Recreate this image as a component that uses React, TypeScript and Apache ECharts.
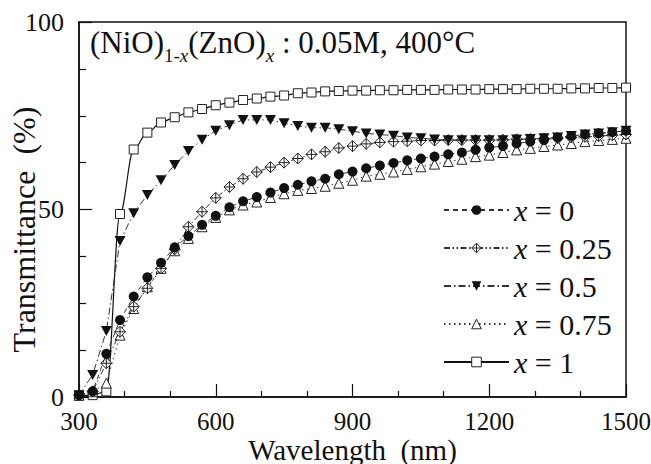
import React, { useEffect, useRef } from "react";
import * as echarts from "echarts";

const wavelengths = [300, 330, 360, 390, 420, 450, 480, 510, 540, 570, 600, 630, 660, 690, 720, 750, 780, 810, 840, 870, 900, 930, 960, 990, 1020, 1050, 1080, 1110, 1140, 1170, 1200, 1230, 1260, 1290, 1320, 1350, 1380, 1410, 1440, 1470, 1500];

const tX0 = [0.5, 1.5, 11.5, 20.5, 26.8, 31.9, 35.8, 39.9, 42.9, 45.9, 48.3, 50.6, 52.2, 53.3, 54.5, 55.7, 56.6, 57.5, 58.2, 59.4, 60.1, 61.0, 61.7, 62.4, 63.1, 63.6, 64.1, 64.7, 65.2, 65.9, 66.5, 66.9, 67.6, 68.1, 68.5, 69.2, 69.6, 70.0, 70.3, 70.6, 71.0];
const tX025 = [0.5, 1.5, 9.0, 17.4, 24.1, 29.0, 34.3, 39.4, 45.4, 49.4, 53.1, 56.0, 58.2, 60.0, 61.3, 62.5, 63.6, 64.7, 65.4, 66.4, 66.9, 67.5, 67.9, 68.1, 68.2, 68.4, 68.4, 68.5, 68.5, 68.5, 68.5, 68.6, 68.7, 68.8, 68.9, 69.0, 69.2, 69.4, 69.6, 69.8, 70.0];
const tX05 = [0.5, 5.9, 17.6, 41.6, 49.0, 53.9, 57.8, 61.9, 65.6, 68.6, 71.0, 72.5, 73.9, 73.9, 73.9, 73.0, 72.3, 71.8, 71.8, 71.4, 70.9, 70.3, 70.0, 69.7, 69.2, 69.0, 68.7, 68.5, 68.5, 68.5, 68.5, 68.5, 68.7, 68.8, 69.0, 69.2, 69.6, 70.0, 70.3, 70.6, 71.0];
const tX075 = [0.5, 1.4, 3.7, 16.5, 23.6, 29.4, 34.3, 39.0, 42.3, 45.4, 47.9, 49.9, 51.2, 52.0, 53.2, 54.2, 55.1, 55.6, 56.2, 57.0, 57.8, 58.9, 59.4, 60.0, 60.7, 61.4, 62.1, 62.8, 63.4, 64.1, 64.5, 65.2, 65.9, 66.3, 66.8, 67.2, 67.6, 68.1, 68.4, 68.7, 69.0];
const tX1 = [0.3, 0.5, 1.5, 48.8, 66.0, 70.5, 73.2, 74.6, 75.9, 76.8, 77.8, 78.5, 79.2, 79.6, 80.1, 80.4, 81.0, 81.2, 81.5, 81.6, 81.7, 81.7, 81.8, 81.8, 81.9, 81.9, 81.9, 82.0, 82.0, 82.0, 82.1, 82.1, 82.1, 82.2, 82.2, 82.2, 82.3, 82.3, 82.4, 82.4, 82.5];

const seriesNames = ["x = 0", "x = 0.25", "x = 0.5", "x = 0.75", "x = 1"];
const xAxisTitle = "Wavelength  (nm)";
const yAxisTitle = "Transmittance  (%)";

const FONT = "Liberation Serif";
const DIAMOND = "path://M10,0 L20,10 L10,20 L0,10 Z M10,0 L10,20 M0,10 L20,10";
const TRI_DOWN = "path://M0,0 L20,0 L10,18 Z";

function pairs(vals: number[]) {
  return wavelengths.map((w, i) => [w, vals[i]]);
}

export default function App() {
  const ref = useRef<HTMLDivElement>(null);
  useEffect(() => {
    if (!ref.current) return;
    const chart = echarts.init(ref.current, undefined, { renderer: "svg" });
    const lineColor = "#333";
    const openStyle = { color: "#fff", borderColor: "#222", borderWidth: 1 };
    const option = {
      animation: false,
      backgroundColor: "#fff",
      title: {
        text: "{n|(NiO)}{s|1-}{si|x}{n|(ZnO)}{si|x}{n| : 0.05M, 400°C}",
        left: 90,
        top: 19,
        padding: 0,
        textStyle: {
          fontFamily: FONT,
          fontWeight: "normal",
          rich: {
            n: { fontFamily: FONT, fontWeight: "normal", fontSize: 31, color: "#111", lineHeight: 46 },
            s: { fontFamily: FONT, fontWeight: "normal", fontSize: 19, color: "#111", lineHeight: 14, verticalAlign: "bottom" },
            si: { fontFamily: FONT, fontWeight: "normal", fontSize: 19, fontStyle: "italic", color: "#111", lineHeight: 14, verticalAlign: "bottom" },
          },
        },
      },
      legend: {
        data: [
          { name: seriesNames[0] },
          { name: seriesNames[1], itemStyle: openStyle },
          { name: seriesNames[2] },
          { name: seriesNames[3], itemStyle: openStyle },
          { name: seriesNames[4], itemStyle: openStyle },
        ],
        orient: "vertical",
        left: 443,
        top: 195,
        padding: 0,
        itemWidth: 65,
        itemHeight: 12,
        itemGap: 8,
        formatter: (name: string) => "{i|x}{r|" + name.slice(1) + "}",
        textStyle: {
          fontFamily: FONT,
          fontSize: 30,
          lineHeight: 30,
          color: "#111",
          rich: {
            i: { fontFamily: FONT, fontSize: 30, fontStyle: "italic", color: "#111", lineHeight: 30 },
            r: { fontFamily: FONT, fontSize: 30, color: "#111", lineHeight: 30 },
          },
        },
      },
      grid: {
        left: 79,
        right: 25,
        top: 22,
        bottom: 67,
        show: true,
        borderColor: "#111",
        borderWidth: 1.5,
        backgroundColor: "transparent",
        outerBoundsMode: "none",
        containLabel: false,
      },
      xAxis: {
        type: "value",
        min: 300,
        max: 1500,
        interval: 300,
        name: xAxisTitle,
        nameLocation: "middle",
        nameGap: 38,
        nameMoveOverlap: false,
        nameTextStyle: { fontFamily: FONT, fontSize: 29, color: "#111" },
        axisLine: { show: true, lineStyle: { color: "#111", width: 1.5 } },
        axisTick: { show: true, inside: true, length: 13, lineStyle: { color: "#111", width: 1.2 } },
        minorTick: { show: true, splitNumber: 3, length: 6, lineStyle: { color: "#111", width: 1.2 } },
        axisLabel: { fontFamily: FONT, fontSize: 25, color: "#111", margin: 12, formatter: (v: number) => String(v) },
        splitLine: { show: false },
      },
      yAxis: {
        type: "value",
        min: 0,
        max: 100,
        interval: 50,
        name: yAxisTitle,
        nameLocation: "middle",
        nameGap: 39,
        nameMoveOverlap: false,
        nameTextStyle: { fontFamily: FONT, fontSize: 32, color: "#111", padding: [0, 40, 0, 0] },
        axisLine: { show: true, lineStyle: { color: "#111", width: 1.5 } },
        axisTick: { show: true, inside: true, length: 13, lineStyle: { color: "#111", width: 1.2 } },
        minorTick: { show: true, splitNumber: 4, length: 7, lineStyle: { color: "#111", width: 1.2 } },
        axisLabel: { fontFamily: FONT, fontSize: 26, color: "#111", margin: 15, formatter: (v: number) => String(v) },
        splitLine: { show: false },
      },
      series: [
        {
          name: "x = 1",
          type: "line",
          data: pairs(tX1),
          symbol: "rect",
          symbolSize: 9,
          smooth: 0.35,
          smoothMonotone: "x",
          itemStyle: openStyle,
          lineStyle: { color: "#111", width: 1.2, type: "solid" },
          z: 1,
        },
        {
          name: "x = 0.75",
          type: "line",
          data: pairs(tX075),
          symbol: "triangle",
          symbolSize: 10,
          itemStyle: openStyle,
          lineStyle: { color: lineColor, width: 1, type: [1.5, 3.5] },
          z: 2,
        },
        {
          name: "x = 0.25",
          type: "line",
          data: pairs(tX025),
          symbol: DIAMOND,
          symbolSize: 11,
          itemStyle: openStyle,
          lineStyle: { color: lineColor, width: 1, type: [6, 2.5, 1.5, 2.5, 1.5, 2.5] },
          z: 3,
        },
        {
          name: "x = 0",
          type: "line",
          data: pairs(tX0),
          symbol: "circle",
          symbolSize: 10,
          itemStyle: { color: "#111", borderColor: "#111", borderWidth: 0 },
          lineStyle: { color: lineColor, width: 1, type: [5, 4] },
          z: 4,
        },
        {
          name: "x = 0.5",
          type: "line",
          data: pairs(tX05),
          symbol: TRI_DOWN,
          symbolSize: [11, 10],
          itemStyle: { color: "#111", borderColor: "#111", borderWidth: 0 },
          lineStyle: { color: lineColor, width: 1, type: [7, 3, 1.5, 3] },
          z: 5,
        },
      ],
    };
    chart.setOption(option as any);
    return () => chart.dispose();
  }, []);
  return <div ref={ref} style={{ position: "absolute", left: 0, top: 0, width: 651, height: 464 }} />;
}
